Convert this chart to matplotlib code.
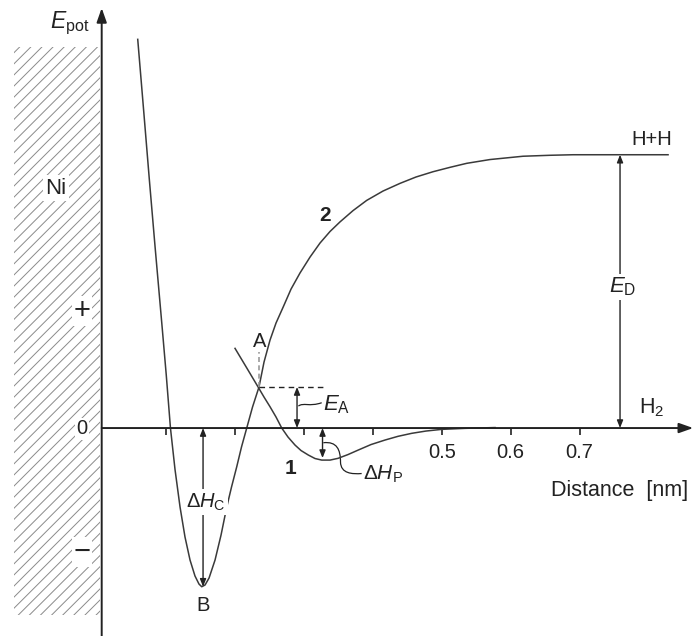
import matplotlib.pyplot as plt
from matplotlib.patches import Rectangle, PathPatch
from matplotlib.path import Path

plt.rcParams['font.family'] = 'Liberation Sans'
plt.rcParams['mathtext.fontset'] = 'custom'
plt.rcParams['mathtext.rm'] = 'Liberation Sans'
plt.rcParams['mathtext.it'] = 'Liberation Sans:italic'
plt.rcParams['mathtext.bf'] = 'Liberation Sans:bold'
plt.rcParams['hatch.linewidth'] = 0.7

# curve 2: chemisorption (Ni-H), distance in nm vs energy (arbitrary units)
chem_x = [0.0588, 0.0677, 0.0757, 0.0840, 0.0942, 0.1002, 0.1063, 0.1129, 0.1202,
          0.1274, 0.1347, 0.1419, 0.1477, 0.1517, 0.1565, 0.1623, 0.1710, 0.1797,
          0.1880, 0.1949, 0.2025, 0.2094, 0.2170, 0.2254, 0.2348, 0.2421, 0.2508,
          0.2595, 0.2701, 0.2813, 0.2943, 0.3089, 0.3234, 0.3379, 0.3524, 0.3713,
          0.3911, 0.4148, 0.4395, 0.4627, 0.4874, 0.5120, 0.5363, 0.5701, 0.6180,
          0.6572, 0.6906, 0.8285]
chem_e = [3.239, 2.625, 2.067, 1.508, 0.842, 0.442, 0.0, -0.345, -0.658,
          -0.908, -1.100, -1.233, -1.300, -1.3225, -1.308, -1.250, -1.100, -0.892,
          -0.658, -0.492, -0.3225, -0.158, 0.0, 0.175, 0.342, 0.550, 0.733,
          0.875, 1.011, 1.158, 1.292, 1.425, 1.542, 1.638, 1.718, 1.812,
          1.897, 1.975, 2.039, 2.092, 2.136, 2.1725, 2.206, 2.2375, 2.265,
          2.273, 2.2775, 2.2775]

# curve 1: physisorption of H2
phys_x = [0.2000, 0.2167, 0.2338, 0.2421, 0.2508, 0.2595, 0.2678, 0.2769, 0.2871,
          0.2958, 0.3064, 0.3161, 0.3258, 0.3379, 0.3495, 0.3640, 0.3790, 0.3974,
          0.4177, 0.4366, 0.4565, 0.4772, 0.5000, 0.5338, 0.5774]
phys_e = [0.664, 0.504, 0.339, 0.258, 0.1775, 0.092, 0.0, -0.075, -0.142,
          -0.1875, -0.225, -0.254, -0.267, -0.267, -0.2525, -0.221, -0.183, -0.1375,
          -0.100, -0.069, -0.044, -0.025, -0.011, -0.0025, 0.004]

ticks = [0.1, 0.2, 0.3, 0.4, 0.5, 0.6, 0.7]
tick_labels = ['', '', '', '', '0.5', '0.6', '0.7']

# key energy levels
e_cross = 0.342      # crossing point A
x_cross = 0.2348
e_min_chem = -1.3225  # point B
x_min_chem = 0.1517
e_min_phys = -0.25
e_dissoc = 2.2775    # H+H level

fig = plt.figure(figsize=(6.95, 6.36), dpi=100)
ax = fig.add_axes([0, 0, 1, 1])
ax.set_xlim(-0.1411, 0.8676)
ax.set_ylim(-1.733, 3.567)
ax.axis('off')

ink = '#222222'
curve_col = '#3a3a3a'

# nickel surface
ax.add_patch(Rectangle((-0.1208, -1.558), 0.1249, 4.733, fill=False,
                       hatch='///', edgecolor='#8a8a8a', linewidth=0))
ax.text(-0.0598, 2.0, 'Ni', fontsize=16, ha='center', va='center', color=ink,
        bbox=dict(facecolor='white', edgecolor='none', pad=2))
for yv, s, fs in [(0.975, '+', 21), (-0.008, '0', 14.5), (-1.033, '\u2212', 21)]:
    ax.text(-0.0225, yv, s, fontsize=fs, ha='center', va='center', color=ink,
            bbox=dict(facecolor='white', edgecolor='none', pad=1))

# axes with arrow heads
ax_x0 = 0.0065
ax.annotate('', xy=(ax_x0, 3.50), xytext=(ax_x0, -1.733),
            arrowprops=dict(arrowstyle='-|>,head_length=0.85,head_width=0.3',
                            color=ink, lw=1.4, shrinkA=0, shrinkB=0))
ax.annotate('', xy=(0.865, 0), xytext=(ax_x0, 0),
            arrowprops=dict(arrowstyle='-|>,head_length=0.85,head_width=0.3',
                            color=ink, lw=1.4, shrinkA=0, shrinkB=0))
ax.vlines(ticks, -0.058, 0, color=ink, lw=1.2)
for t, lab in zip(ticks, tick_labels):
    if lab:
        ax.text(t, -0.2, lab, fontsize=14.5, ha='center', va='center', color=ink)
ax.text(0.8576, -0.517, 'Distance  [nm]', fontsize=15.5, ha='right', va='center', color=ink)
ax.text(-0.0685, 3.331, r'$E_{\mathrm{pot}}$', fontsize=16.5, ha='left', va='baseline', color=ink)

# potential curves
ax.plot(chem_x, chem_e, color=curve_col, lw=1.1)
ax.plot(phys_x, phys_e, color=curve_col, lw=1.1)
ax.text(0.3306, 1.775, '2', fontsize=15, fontweight='bold', ha='center', va='center', color=ink)
ax.text(0.2798, -0.333, '1', fontsize=15, fontweight='bold', ha='center', va='center', color=ink)

# point A and activation energy
ax.plot([x_cross, x_cross], [e_cross, 0.633], color='#9a9a9a', lw=1.2, ls=(0, (3, 2)))
ax.text(0.2363, 0.725, 'A', fontsize=14.5, ha='center', va='center', color=ink)
ax.plot([x_cross, 0.3306], [e_cross, e_cross], color=ink, lw=1.0, ls=(0, (4, 3)))
dbl = dict(arrowstyle='<|-|>,head_length=0.45,head_width=0.18', color=ink, lw=1.0,
           shrinkA=0, shrinkB=0)
ax.annotate('', xy=(0.2900, e_cross), xytext=(0.2900, 0), arrowprops=dbl)
tilde = Path([(0.2920, 0.183), (0.2990, 0.215), (0.3080, 0.175), (0.3258, 0.211)],
             [Path.MOVETO, Path.CURVE4, Path.CURVE4, Path.CURVE4])
ax.add_patch(PathPatch(tilde, fill=False, edgecolor=ink, lw=0.9))
ax.text(0.3277, 0.150, r'$E_\mathrm{A}$', fontsize=16, ha='left', va='baseline', color=ink)

# physisorption enthalpy
ax.annotate('', xy=(0.3270, e_min_phys), xytext=(0.3270, 0), arrowprops=dbl)
leader = Path([(0.3282, -0.1225), (0.3480, -0.110), (0.3530, -0.180), (0.3531, -0.283),
               (0.3535, -0.380), (0.3700, -0.385), (0.3838, -0.379)],
              [Path.MOVETO, Path.CURVE4, Path.CURVE4, Path.CURVE4,
               Path.CURVE4, Path.CURVE4, Path.CURVE4])
ax.add_patch(PathPatch(leader, fill=False, edgecolor=ink, lw=0.9))
ax.text(0.3862, -0.433, r'$\Delta H_\mathrm{P}$', fontsize=15, ha='left', va='baseline', color=ink)

# chemisorption enthalpy, point B
ax.annotate('', xy=(0.1536, e_min_chem), xytext=(0.1536, 0), arrowprops=dbl)
ax.text(0.158, -0.617, r'$\Delta H_\mathrm{C}$', fontsize=14.5, ha='center', va='center', color=ink,
        bbox=dict(facecolor='white', edgecolor='none', pad=1.5))
ax.text(0.1543, -1.479, 'B', fontsize=14.5, ha='center', va='center', color=ink)

# dissociation energy
ax.annotate('', xy=(0.7588, e_dissoc), xytext=(0.7588, 0), arrowprops=dbl)
ax.text(0.7630, 1.175, r'$E_\mathrm{D}$', fontsize=16, ha='center', va='center', color=ink,
        bbox=dict(facecolor='white', edgecolor='none', pad=1.5))
ax.text(0.8052, 2.408, 'H+H', fontsize=14.5, ha='center', va='center', color=ink)
ax.text(0.8045, 0.167, r'$\mathrm{H}_2$', fontsize=15.5, ha='center', va='center', color=ink)

fig.savefig('out.png', dpi=100)
